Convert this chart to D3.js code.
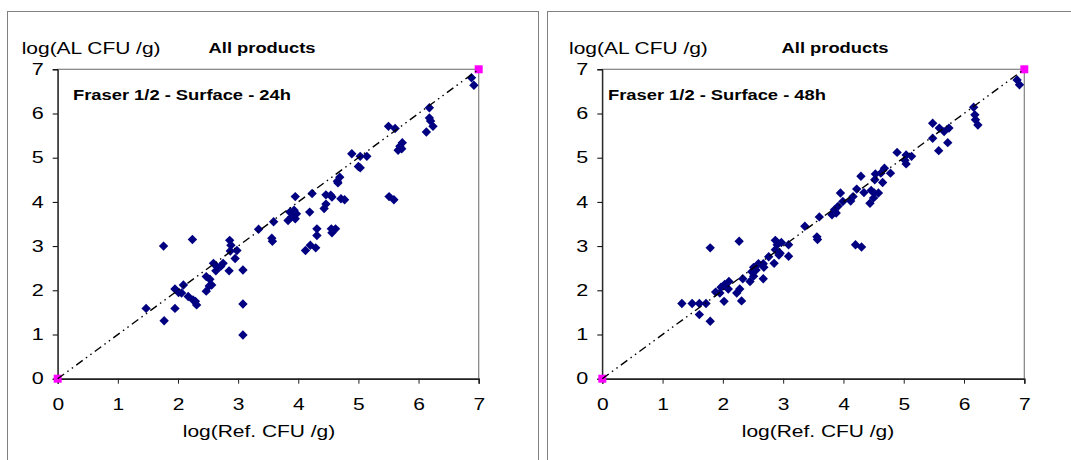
<!DOCTYPE html>
<html>
<head>
<meta charset="utf-8">
<script src="https://cdn.jsdelivr.net/npm/d3@7"></script>
<style>
  body { margin: 0; background: #fff; }
  svg { display: block; font-family: "Liberation Sans", Arial, sans-serif; }
</style>
</head>
<body>
<script>
// log(Ref. CFU/g) vs log(AL CFU/g), Fraser 1/2 surface, 24h
const points24 = [
  [6.88, 6.81], [6.92, 6.64], [6.18, 6.13], [6.18, 5.90], [6.20, 5.83], [6.13, 5.58], [6.24, 5.71],
  [5.50, 5.71], [5.61, 5.66], [5.73, 5.34], [5.69, 5.26], [5.66, 5.17], [5.72, 5.20],
  [4.89, 5.09], [5.03, 5.03], [5.14, 5.03], [5.03, 4.77], [5.00, 4.80],
  [4.69, 4.56], [4.66, 4.43], [4.65, 4.47], [5.51, 4.12], [5.59, 4.05],
  [4.23, 4.19], [4.46, 4.16], [4.54, 4.15], [4.56, 4.11], [4.71, 4.07], [4.77, 4.05],
  [3.95, 4.12], [4.46, 3.95], [4.43, 3.85], [4.19, 3.77],
  [3.86, 3.77], [3.89, 3.66], [3.97, 3.73], [3.83, 3.58], [3.95, 3.62], [3.93, 3.81],
  [3.59, 3.55], [3.34, 3.38], [3.56, 3.18], [3.57, 3.11],
  [4.31, 3.39], [4.31, 3.24], [4.55, 3.39], [4.62, 3.39], [4.56, 3.30],
  [4.20, 3.02], [4.29, 2.96], [4.12, 2.90],
  [2.86, 3.13], [2.88, 3.02], [2.87, 2.89], [2.98, 2.90], [2.95, 2.72], [2.85, 2.44], [3.08, 2.46],
  [2.24, 3.15], [1.76, 3.00],
  [2.59, 2.61], [2.65, 2.53], [2.71, 2.54], [2.75, 2.61], [2.63, 2.44],
  [2.47, 2.31], [2.53, 2.25], [2.52, 2.10], [2.56, 2.12], [2.47, 1.98],
  [2.09, 2.12], [1.95, 2.03], [2.01, 1.95], [2.06, 1.94], [2.17, 1.86], [2.25, 1.78], [2.29, 1.75], [2.31, 1.67],
  [1.47, 1.59], [1.95, 1.59], [1.77, 1.31], [3.08, 1.69], [3.08, 0.99]
];

// same samples, 48h
const points48 = [
  [6.88, 6.76], [6.92, 6.65], [6.16, 6.14], [6.18, 5.97], [6.19, 5.86], [6.23, 5.74],
  [5.48, 5.78], [5.59, 5.67], [5.67, 5.59], [5.75, 5.67], [5.48, 5.44], [5.73, 5.34], [5.58, 5.16],
  [4.89, 5.12], [5.04, 5.06], [5.13, 5.03], [5.02, 4.94], [5.04, 4.86],
  [4.68, 4.76], [4.78, 4.65], [4.62, 4.65], [4.53, 4.63], [4.52, 4.50], [4.65, 4.44],
  [4.29, 4.58], [4.22, 4.29], [4.46, 4.26], [4.51, 4.20], [4.58, 4.20], [4.34, 4.21],
  [4.16, 4.12], [4.12, 4.02], [4.44, 3.97], [4.50, 4.09],
  [3.95, 4.20], [3.99, 4.01], [3.91, 3.90], [3.85, 3.82], [3.88, 3.75], [3.81, 3.71],
  [3.60, 3.66], [3.36, 3.45], [3.56, 3.21], [3.57, 3.15],
  [4.20, 3.03], [4.30, 2.98],
  [2.87, 3.13], [2.90, 3.03], [2.97, 3.08], [3.09, 3.03], [2.87, 2.92], [2.95, 2.84], [2.93, 2.80],
  [3.09, 2.77], [2.85, 2.61], [2.76, 2.76],
  [2.67, 2.60], [2.59, 2.60], [2.68, 2.52], [2.51, 2.52], [2.55, 2.46], [2.48, 2.42],
  [2.67, 2.26], [2.51, 2.32], [2.33, 2.26], [2.45, 2.20],
  [2.27, 3.11], [1.79, 2.96],
  [2.10, 2.20], [2.03, 2.13], [1.97, 2.07], [2.09, 2.03], [1.88, 1.96], [1.95, 1.94],
  [2.28, 2.03], [2.23, 1.94], [2.02, 1.75], [2.31, 1.76],
  [1.32, 1.70], [1.49, 1.70], [1.61, 1.70], [1.72, 1.70], [1.61, 1.45], [1.79, 1.30]
];

const identityLine = [[0, 0], [7, 7]];
const axisTicks = [0, 1, 2, 3, 4, 5, 6, 7];
const yTitle = "log(AL CFU /g)";
const xTitle = "log(Ref. CFU /g)";
const chartTitle = "All products";
const panelLabels = ["Fraser 1/2 - Surface - 24h", "Fraser 1/2 - Surface - 48h"];

const W = 1071, H = 460;
const SX = 1.31; // the original picture is stretched sideways, text included

const svg = d3.select("body").append("svg")
  .attr("width", W)
  .attr("height", H);

svg.append("rect").attr("width", W).attr("height", H).attr("fill", "#fff");

const panels = [
  { data: points24, label: panelLabels[0], box: 7.5, boxW: 531, x0: 57.7, x1: 478.7,
    yTitleX: 21.7, titleX: 262, labelX: 73, xTitleX: 259 },
  { data: points48, label: panelLabels[1], box: 547.5, boxW: 600, x0: 602.3, x1: 1024.3,
    yTitleX: 569, titleX: 835, labelX: 608, xTitleX: 818 }
];

function stretchedText(g, x, y, txt, anchor, size, weight) {
  return g.append("text")
    .attr("transform", `translate(${x},${y}) scale(${SX},1)`)
    .attr("text-anchor", anchor)
    .attr("font-size", size)
    .attr("font-weight", weight)
    .attr("fill", "#000")
    .text(txt);
}

panels.forEach(p => {
  const g = svg.append("g");

  g.append("rect")
    .attr("x", p.box).attr("y", 11.5)
    .attr("width", p.boxW).attr("height", 500)
    .attr("fill", "none")
    .attr("stroke", "#808080");

  const x = d3.scaleLinear().domain([0, 7]).range([p.x0, p.x1]);
  const y = d3.scaleLinear().domain([0, 7]).range([378.7, 69.3]);

  // plot area outline
  g.append("rect")
    .attr("x", x(0)).attr("y", y(7))
    .attr("width", x(7) - x(0)).attr("height", y(0) - y(7))
    .attr("fill", "none")
    .attr("stroke", "#808080")
    .attr("stroke-width", 1.2);

  const xAxis = g.append("g")
    .attr("transform", `translate(0,${y(0)})`)
    .call(d3.axisBottom(x).tickValues(axisTicks).tickSize(5).tickPadding(15).tickFormat(d3.format("d")));
  xAxis.select(".domain").attr("stroke", "#222").attr("stroke-width", 1.6);
  xAxis.selectAll(".tick line").attr("stroke", "#222");
  xAxis.attr("font-size", 16).attr("font-family", null);
  xAxis.selectAll(".tick text").attr("fill", "#000").attr("transform", `scale(${SX},1)`);

  const yAxis = g.append("g")
    .attr("transform", `translate(${x(0)},0)`)
    .call(d3.axisLeft(y).tickValues(axisTicks).tickSize(5).tickPadding(9).tickFormat(d3.format("d")));
  yAxis.select(".domain").attr("stroke", "#000");
  yAxis.selectAll(".tick line").attr("stroke", "#000");
  yAxis.attr("font-size", 16.5).attr("font-family", null);
  yAxis.selectAll(".tick text").attr("fill", "#000")
    .attr("x", 0)
    .attr("transform", `translate(-14,0) scale(${SX},1)`);

  // data
  g.append("g")
    .selectAll("path")
    .data(p.data)
    .join("path")
      .attr("d", d3.symbol(d3.symbolSquare, 44))
      .attr("transform", d => `translate(${x(d[0])},${y(d[1])}) rotate(45)`)
      .attr("fill", "#000080");

  // 0 / 7 reference markers
  g.append("g")
    .selectAll("rect")
    .data(identityLine)
    .join("rect")
      .attr("x", d => x(d[0]) - 4)
      .attr("y", d => y(d[1]) - 4)
      .attr("width", 8).attr("height", 8)
      .attr("fill", "#ff00ff");

  g.append("path")
    .datum(identityLine)
    .attr("d", d3.line().x(d => x(d[0])).y(d => y(d[1])))
    .attr("fill", "none")
    .attr("stroke", "#000")
    .attr("stroke-width", 1.4)
    .attr("stroke-dasharray", "8,4,1.5,4,1.5,4");

  stretchedText(g, p.yTitleX, 54, yTitle, "start", 16, "normal");
  stretchedText(g, p.titleX, 53, chartTitle, "middle", 14, "bold");
  stretchedText(g, p.labelX, 100, p.label, "start", 14, "bold");
  stretchedText(g, p.xTitleX, 437, xTitle, "middle", 16, "normal");
});
</script>
</body>
</html>
